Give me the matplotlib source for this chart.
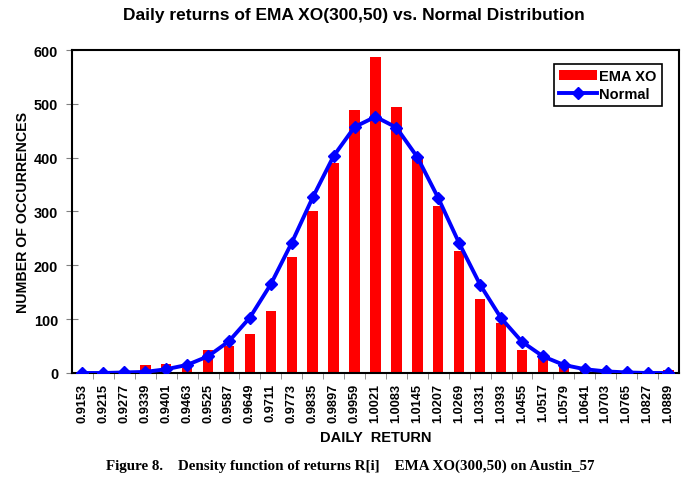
import numpy as np
import matplotlib.pyplot as plt

returns = ["0.9153", "0.9215", "0.9277", "0.9339", "0.9401", "0.9463", "0.9525",
           "0.9587", "0.9649", "0.9711", "0.9773", "0.9835", "0.9897", "0.9959",
           "1.0021", "1.0083", "1.0145", "1.0207", "1.0269", "1.0331", "1.0393",
           "1.0455", "1.0517", "1.0579", "1.0641", "1.0703", "1.0765", "1.0827",
           "1.0889"]
ema_xo = [0, 2, 1, 15, 17, 10, 43, 51, 73, 116, 215, 300, 391, 488,
          587, 495, 399, 310, 227, 138, 92, 43, 28, 11, 5, 1, 1, 0, 5]
normal = [0, 0, 1, 2, 7, 15, 31, 59, 103, 165, 242, 326, 403, 457,
          476, 456, 401, 325, 241, 164, 102, 58, 31, 15, 7, 3, 1, 0, 0]

plt.rcParams['font.family'] = ['Liberation Sans', 'DejaVu Sans']
plt.rcParams['font.weight'] = 'bold'

fig = plt.figure(figsize=(7, 4.89), dpi=100)
ax = fig.add_axes([0.1029, 0.2352, 0.867, 0.6605])

x = np.arange(len(returns))
bars = ax.bar(x, ema_xo, width=0.5, color="#ff0000", label="EMA XO", zorder=2)
line, = ax.plot(x, normal, color="#0000ff", linewidth=2.8, marker="D", markersize=6,
                label="Normal", zorder=3)

ax.set_xlim(-0.5, len(returns) - 0.5)
ax.set_ylim(0, 600)
ax.set_yticks(range(0, 601, 100))
ax.set_xticks(x)
ax.set_xticklabels(returns, rotation=90, fontsize=9.2, fontweight="bold")
ax.set_xticks(x[:-1] + 0.5, minor=True)
ax.tick_params(axis="x", which="major", length=0, pad=7)
ax.tick_params(axis="x", which="minor", length=4, color="#808080")
ax.tick_params(axis="y", labelsize=10.4, length=8, direction="inout",
               color="#808080", pad=6)
for lbl in ax.get_yticklabels():
    lbl.set_fontweight("bold")
for s in ax.spines.values():
    s.set_linewidth(1.5)

ax.set_xlabel("DAILY  RETURN", fontsize=10.5, fontweight="bold", labelpad=6)
ax.set_ylabel("NUMBER OF OCCURRENCES", fontsize=10.2, fontweight="bold", labelpad=3)
fig.text(0.505, 0.968, "Daily returns of EMA XO(300,50) vs. Normal Distribution",
         ha="center", va="center", fontsize=12.5, fontweight="bold")

leg = ax.legend([bars, line], ["EMA XO", "Normal"], loc="upper right",
                bbox_to_anchor=(0.972, 0.957), fancybox=False,
                edgecolor="black", fontsize=10.5, handlelength=2.6,
                borderpad=0.35, labelspacing=0.25, handletextpad=0.2,
                borderaxespad=0)
leg.get_frame().set_linewidth(1.2)
leg.get_frame().set_alpha(1)

fig.text(0.5, 0.047,
         "Figure 8.    Density function of returns R[i]    EMA XO(300,50) on Austin_57",
         ha="center", va="center", fontsize=10.8, fontweight="bold",
         family=["Liberation Serif", "DejaVu Serif"])

fig.savefig("out.png", dpi=100)
